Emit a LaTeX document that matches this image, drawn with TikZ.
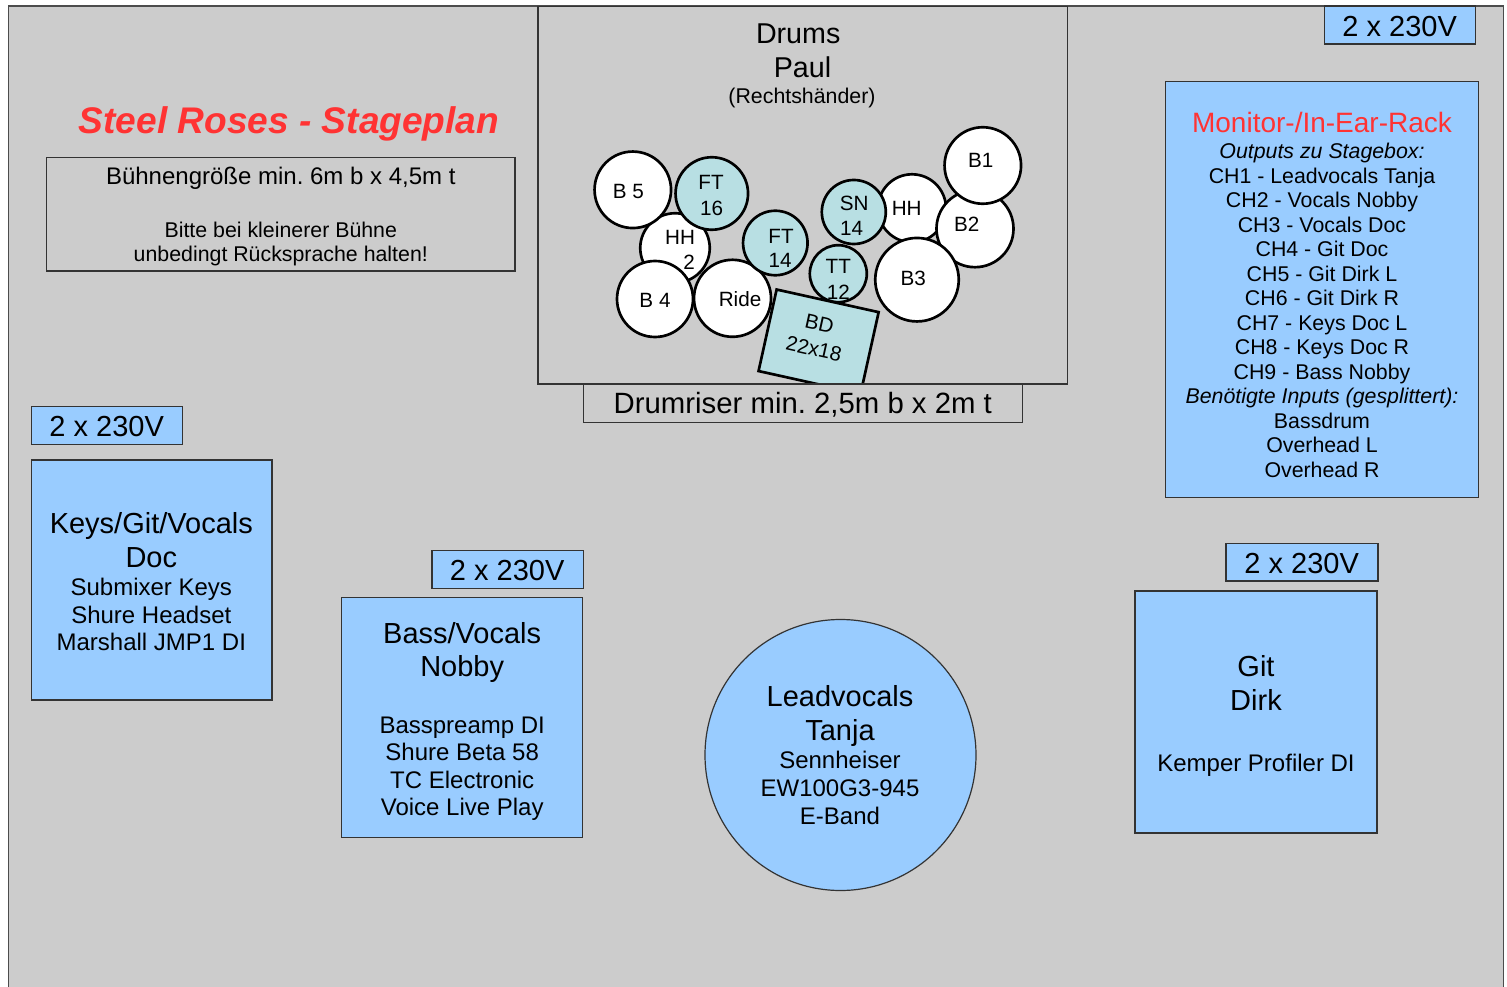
\documentclass[tikz,border=0pt]{standalone}
\usepackage{fontspec}
\setmainfont{Liberation Sans}
\frenchspacing
\definecolor{bgray}{HTML}{CCCCCC}
\definecolor{bblue}{HTML}{99CCFF}
\definecolor{bteal}{HTML}{B8DFE3}
\definecolor{bred}{HTML}{FF3333}
\definecolor{bline}{HTML}{333333}
\newcommand\fsBig{\fontsize{21.75}{26}\selectfont}
\newcommand\fsMid{\fontsize{18}{21.6}\selectfont}
\newcommand\fsSmall{\fontsize{16}{19.2}\selectfont}
\newcommand\fsDrum{\fontsize{15.5}{19.4}\selectfont}
\tikzset{
  wh/.style 2 args={minimum width=#1*0.75pt, minimum height=#2*0.75pt},
  plainbox/.style={rectangle, draw=bline, line width=0.9pt, fill=bgray, inner sep=0pt, outer sep=0pt},
  bluebox/.style={rectangle, draw=bline, line width=0.9pt, fill=bblue, inner sep=0pt, outer sep=0pt},
  drum/.style={circle, draw=black, line width=2pt, fill=white, inner sep=0pt, outer sep=0pt, minimum size=#1*0.75pt},
  tom/.style={drum=#1, fill=bteal},
  lbl/.style={anchor=base, inner sep=0pt, outer sep=0pt, text=black},
}
\begin{document}
\begin{tikzpicture}[x=0.75pt, y=-0.75pt]
\useasboundingbox (0,0) rectangle (1507,987);
% stage background
\fill[white] (0,0) rectangle (1507,987);
\draw[fill=bgray, draw=black!70, line width=0.9pt] (8.3,6) rectangle (1503.3,995);

% title and stage size box
\node[lbl, font=\fontsize{27.8}{33}\selectfont\bfseries\itshape, text=bred] (title) at (289,134) {Steel Roses - Stageplan};
\node[plainbox, wh={468.3}{113.3}] (stagebox) at (280.85,214.35) {};
\node[lbl, font=\fsMid] (st1) at (280.8,184.8) {Bühnengröße min. 6m b x 4,5m t};
\node[lbl, font=\fsSmall] (st2) at (280.8,237.5) {Bitte bei kleinerer Bühne};
\node[lbl, font=\fsSmall] (st3) at (280.8,262) {unbedingt Rücksprache halten!};

% drums area
\node[plainbox, wh={529.5}{377.6}] (drumbox) at (802.75,195.2) {};
\node[lbl, font=\fontsize{21.5}{26}\selectfont] (dr1) at (798.2,43.5) {Drums};
\node[lbl, font=\fontsize{21.5}{26}\selectfont] (dr2) at (802.5,77.5) {Paul};
\node[lbl, font=\fsSmall] (dr3) at (802,103.3) {(Rechtshänder)};

\node[drum=69.5] (hh2) at (675,248) {};
\node[drum=76.5] (b5) at (632.8,189.8) {};
\node[tom=72.5] (ft16) at (711.8,193.5) {};
\node[drum=76] (b4) at (655,299) {};
\node[drum=77] (ride) at (732.5,298.3) {};
\node[tom=64.5] (ft14) at (775.3,243) {};
\node[drum=68] (hh) at (912,208.3) {};
\node[tom=64] (sn) at (853.8,212) {};
\node[drum=77] (b2) at (975,228.7) {};
\node[drum=76.5] (b1) at (982.8,165.5) {};
\node[drum=83.5] (b3) at (917,279.7) {};
\node[tom=57] (tt) at (838.3,273.7) {};

\node[lbl, font=\fsDrum] (lb5) at (628.3,199) {B 5};
\node[lbl, font=\fsDrum] (lft16a) at (711,189.3) {FT};
\node[lbl, font=\fsDrum] (lft16b) at (711.7,215.7) {16};
\node[lbl, font=\fsDrum] (lhh2a) at (680,245) {HH};
\node[lbl, font=\fsDrum] (lhh2b) at (689,270) {2};
\node[lbl, font=\fsDrum] (lft14a) at (781,243.3) {FT};
\node[lbl, font=\fsDrum] (lft14b) at (780,267.3) {14};
\node[lbl, font=\fsDrum] (lsna) at (854.3,210.7) {SN};
\node[lbl, font=\fsDrum] (lsnb) at (851.7,236) {14};
\node[lbl, font=\fsDrum] (lhh) at (906.7,216) {HH};
\node[lbl, font=\fsDrum] (lb1) at (980.7,167.7) {B1};
\node[lbl, font=\fsDrum] (lb2) at (966.7,231.7) {B2};
\node[lbl, font=\fsDrum] (lb3) at (913.3,285.7) {B3};
\node[lbl, font=\fsDrum] (ltta) at (838.3,274) {TT};
\node[lbl, font=\fsDrum] (lttb) at (838.3,300) {12};
\node[lbl, font=\fsDrum] (lb4) at (655,307.3) {B 4};
\node[lbl, font=\fsDrum] (lride) at (740,306.7) {Ride};

\node[rectangle, draw=black, line width=2pt, fill=bteal, inner sep=0pt, outer sep=0pt,
      wh={104.5}{83.5}, rotate=-12.5] (bd) at (818.6,341.6) {};
\node[rotate=-12.5, align=center, inner sep=0pt, font=\fontsize{15.5}{19.4}\selectfont] (lbd) at (816.7,336.2) {BD\\22x18};

\node[plainbox, wh={439}{38.3}] (riser) at (802.8,403.15) {};
\node[lbl, font=\fontsize{22}{26}\selectfont] (lriser) at (802.8,413.3) {Drumriser min. 2,5m b x 2m t};

% power boxes
\node[bluebox, wh={151}{38}] (ptr) at (1399.8,25) {};
\node[lbl, font=\fsBig] (lptr) at (1399.7,36.2) {2 x 230V};
\node[bluebox, wh={151}{37.6}] (pkeys) at (107.2,425.5) {};
\node[lbl, font=\fsBig] (lpkeys) at (106.7,437) {2 x 230V};
\node[bluebox, wh={151.3}{37.6}] (pbass) at (507.65,569.5) {};
\node[lbl, font=\fsBig] (lpbass) at (507.2,580.5) {2 x 230V};
\node[bluebox, wh={152}{37.7}] (pgit) at (1302,562.15) {};
\node[lbl, font=\fsBig] (lpgit) at (1301.7,573.2) {2 x 230V};

% monitor rack
\node[bluebox, wh={312.6}{416}] (monitor) at (1322,289.7) {};
\node[lbl, font=\fontsize{21}{25}\selectfont, text=bred] (mon0) at (1322,132.5) {Monitor-/In-Ear-Rack};
\node[lbl, font=\fsSmall\itshape] (mon1) at (1322,158.8) {Outputs zu Stagebox:};
\foreach \k/\t in {0/CH1 - Leadvocals Tanja, 1/CH2 - Vocals Nobby, 2/CH3 - Vocals Doc, 3/CH4 - Git Doc, 4/CH5 - Git Dirk L, 5/CH6 - Git Dirk R, 6/CH7 - Keys Doc L, 7/CH8 - Keys Doc R, 8/CH9 - Bass Nobby}
  \node[lbl, font=\fsSmall] (ch\k) at (1322,183.5+\k*24.5) {\t};
\node[lbl, font=\fsSmall\itshape] (mon2) at (1322,404) {Benötigte Inputs (gesplittert):};
\node[lbl, font=\fsSmall] (mon3) at (1322,428.5) {Bassdrum};
\node[lbl, font=\fsSmall] (mon4) at (1322,453) {Overhead L};
\node[lbl, font=\fsSmall] (mon5) at (1322,477.5) {Overhead R};

% Keys / Doc
\node[bluebox, wh={240.3}{240}] (keys) at (151.85,580) {};
\node[lbl, font=\fsBig] (k1) at (151.3,533.5) {Keys/Git/Vocals};
\node[lbl, font=\fsBig] (k2) at (151.3,567) {Doc};
\node[lbl, font=\fsMid] (k3) at (151.3,595.3) {Submixer Keys};
\node[lbl, font=\fsMid] (k4) at (151.3,623) {Shure Headset};
\node[lbl, font=\fsMid] (k5) at (151.3,650.3) {Marshall JMP1 DI};

% Bass / Nobby
\node[bluebox, wh={240.6}{240}] (bass) at (462,717.7) {};
\node[lbl, font=\fsBig] (n1) at (462.2,643.2) {Bass/Vocals};
\node[lbl, font=\fsBig] (n2) at (462.2,676.5) {Nobby};
\node[lbl, font=\fsMid] (n3) at (462.2,733.7) {Basspreamp DI};
\node[lbl, font=\fsMid] (n4) at (462.2,760.5) {Shure Beta 58};
\node[lbl, font=\fsMid] (n5) at (462.2,788.2) {TC Electronic};
\node[lbl, font=\fsMid] (n6) at (462.2,815.8) {Voice Live Play};

% Leadvocals / Tanja
\node[circle, draw=bline, line width=0.9pt, fill=bblue, inner sep=0pt, minimum size=271*0.75pt] (tanja) at (840.5,755) {};
\node[lbl, font=\fsBig] (t1) at (840,706) {Leadvocals};
\node[lbl, font=\fsBig] (t2) at (840,740.5) {Tanja};
\node[lbl, font=\fsMid] (t3) at (840,768.5) {Sennheiser};
\node[lbl, font=\fsMid] (t4) at (840,796.5) {EW100G3-945};
\node[lbl, font=\fsMid] (t5) at (840,824.5) {E-Band};

% Git / Dirk
\node[bluebox, wh={242}{242}] (git) at (1256,712) {};
\node[lbl, font=\fsBig] (g1) at (1256,676) {Git};
\node[lbl, font=\fsBig] (g2) at (1256,710.5) {Dirk};
\node[lbl, font=\fsMid] (g3) at (1256,771) {Kemper Profiler DI};
\end{tikzpicture}
\end{document}
